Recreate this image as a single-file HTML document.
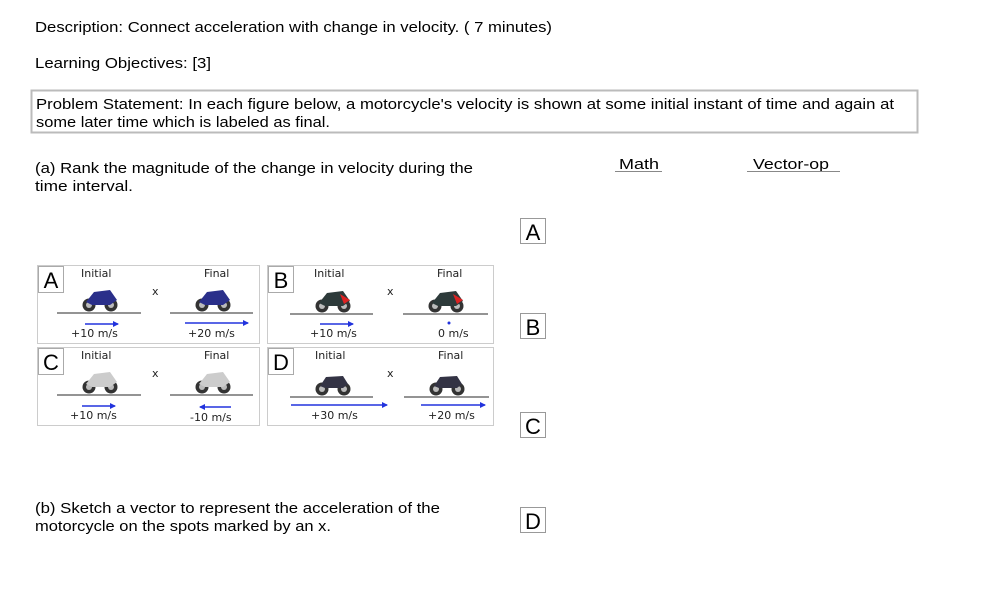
<!DOCTYPE html>
<html><head><meta charset="utf-8"><style>
html,body{margin:0;padding:0;background:#fff;}
svg{display:block;font-family:"Liberation Sans",sans-serif;}
</style></head><body>
<svg width="994" height="600" viewBox="0 0 994 600" xmlns="http://www.w3.org/2000/svg">
<defs>
<marker id="ah" markerWidth="6" markerHeight="6" refX="5" refY="3" orient="auto" markerUnits="userSpaceOnUse"><path d="M0,0 L6,3 L0,6 z" fill="#2233dd"/></marker>
<g id="bike">
<circle cx="-11" cy="0" r="6.5" fill="#333"/><circle cx="-11" cy="0" r="3" fill="#bbb"/>
<circle cx="11" cy="0" r="6.5" fill="#333"/><circle cx="11" cy="0" r="3" fill="#bbb"/>
</g>
</defs>
<g font-size="14.5" fill="#000">
<text x="35" y="32" textLength="517" lengthAdjust="spacingAndGlyphs">Description:  Connect acceleration with change in velocity. ( 7 minutes)</text>
<text x="35" y="68" textLength="176" lengthAdjust="spacingAndGlyphs">Learning Objectives:  [3]</text>
<rect x="31.5" y="90.5" width="886" height="42" fill="none" stroke="#bbb" stroke-width="2"/>
<text x="36" y="109" textLength="858" lengthAdjust="spacingAndGlyphs">Problem Statement:  In each figure below, a motorcycle's velocity is shown at some initial instant of time and again at</text>
<text x="36" y="127" textLength="294" lengthAdjust="spacingAndGlyphs">some later time which is labeled as final.</text>
<text x="35" y="173" textLength="438" lengthAdjust="spacingAndGlyphs">(a)  Rank the magnitude of the change in velocity during the</text>
<text x="35" y="191" textLength="98" lengthAdjust="spacingAndGlyphs">time interval.</text>
<text x="619" y="169" textLength="40" lengthAdjust="spacingAndGlyphs">Math</text>
<line x1="615" y1="171.5" x2="662" y2="171.5" stroke="#888"/>
<text x="753" y="169" textLength="76" lengthAdjust="spacingAndGlyphs">Vector-op</text>
<line x1="747" y1="171.5" x2="840" y2="171.5" stroke="#888"/>
<text x="35" y="513" textLength="405" lengthAdjust="spacingAndGlyphs">(b)  Sketch a vector to represent the acceleration of the</text>
<text x="35" y="531" textLength="296" lengthAdjust="spacingAndGlyphs">motorcycle on the spots marked by an x.</text>
</g>
<g font-size="22" fill="#000" stroke-width="1">
<rect x="520.5" y="218.5" width="25" height="25" fill="#fff" stroke="#999"/><text x="533" y="240" text-anchor="middle">A</text>
<rect x="520.5" y="313.5" width="25" height="25" fill="#fff" stroke="#999"/><text x="533" y="335" text-anchor="middle">B</text>
<rect x="520.5" y="412.5" width="25" height="25" fill="#fff" stroke="#999"/><text x="533" y="434" text-anchor="middle">C</text>
<rect x="520.5" y="507.5" width="25" height="25" fill="#fff" stroke="#999"/><text x="533" y="529" text-anchor="middle">D</text>
</g>
<g font-size="11" fill="#222" font-family="DejaVu Sans, sans-serif">
<rect x="37.5" y="265.5" width="222" height="78" fill="none" stroke="#ccc"/>
<rect x="267.5" y="265.5" width="226" height="78" fill="none" stroke="#ccc"/>
<rect x="37.5" y="347.5" width="222" height="78" fill="none" stroke="#ccc"/>
<rect x="267.5" y="347.5" width="226" height="78" fill="none" stroke="#ccc"/>
<g font-size="22" fill="#000" font-family="Liberation Sans, sans-serif">
<rect x="38.5" y="266.5" width="25" height="26" fill="#fff" stroke="#aaa"/><text x="51" y="288" text-anchor="middle">A</text>
<rect x="268.5" y="266.5" width="25" height="26" fill="#fff" stroke="#aaa"/><text x="281" y="288" text-anchor="middle">B</text>
<rect x="38.5" y="348.5" width="25" height="26" fill="#fff" stroke="#aaa"/><text x="51" y="370" text-anchor="middle">C</text>
<rect x="268.5" y="348.5" width="25" height="26" fill="#fff" stroke="#aaa"/><text x="281" y="370" text-anchor="middle">D</text>
</g>
<text x="81" y="277">Initial</text><text x="204" y="277">Final</text><text x="152" y="295">x</text>
<text x="314" y="277">Initial</text><text x="437" y="277">Final</text><text x="387" y="295">x</text>
<text x="81" y="359">Initial</text><text x="204" y="359">Final</text><text x="152" y="377">x</text>
<text x="315" y="359">Initial</text><text x="438" y="359">Final</text><text x="387" y="377">x</text>
<g stroke="#555" stroke-width="1.2">
<line x1="57" y1="313" x2="141" y2="313"/><line x1="170" y1="313" x2="253" y2="313"/>
<line x1="290" y1="314" x2="373" y2="314"/><line x1="403" y1="314" x2="488" y2="314"/>
<line x1="57" y1="395" x2="141" y2="395"/><line x1="170" y1="395" x2="253" y2="395"/>
<line x1="290" y1="397" x2="373" y2="397"/><line x1="404" y1="397" x2="489" y2="397"/>
</g>
<g>
<use href="#bike" x="100" y="305"/><path d="M86,302 L94,292 L110,290 L117,300 L110,305 L92,305z" fill="#2a2f8a"/>
<use href="#bike" x="213" y="305"/><path d="M199,302 L207,292 L223,290 L230,300 L223,305 L205,305z" fill="#2a2f8a"/>
<use href="#bike" x="333" y="306"/><path d="M319,303 L327,293 L343,291 L350,301 L343,306 L325,306z" fill="#2d3a3a"/><path d="M340,294 L350,300 L344,304z" fill="#d22"/>
<use href="#bike" x="446" y="306"/><path d="M432,303 L440,293 L456,291 L463,301 L456,306 L438,306z" fill="#2d3a3a"/><path d="M453,294 L463,300 L457,304z" fill="#d22"/>
<use href="#bike" x="100" y="387"/><path d="M86,384 L94,374 L110,372 L117,382 L110,387 L92,387z" fill="#ccc"/>
<use href="#bike" x="213" y="387"/><path d="M199,384 L207,374 L223,372 L230,382 L223,387 L205,387z" fill="#ccc"/>
<use href="#bike" x="333" y="389"/><path d="M320,386 L326,377 L343,376 L348,384 L343,388 L325,388z" fill="#334"/>
<use href="#bike" x="447" y="389"/><path d="M434,386 L440,377 L457,376 L462,384 L457,388 L439,388z" fill="#334"/>
</g>
<g stroke="#2233dd" stroke-width="1.5" marker-end="url(#ah)">
<line x1="85" y1="324" x2="118" y2="324"/>
<line x1="185" y1="323" x2="248" y2="323"/>
<line x1="320" y1="324" x2="353" y2="324"/>
<line x1="82" y1="406" x2="115" y2="406"/>
<line x1="231" y1="407" x2="200" y2="407"/>
<line x1="291" y1="405" x2="387" y2="405"/>
<line x1="421" y1="405" x2="485" y2="405"/>
</g>
<circle cx="449" cy="323" r="1.5" fill="#2233dd"/>
<text x="71" y="337">+10 m/s</text><text x="188" y="337">+20 m/s</text>
<text x="310" y="337">+10 m/s</text><text x="438" y="337">0 m/s</text>
<text x="70" y="419">+10 m/s</text><text x="190" y="421">-10 m/s</text>
<text x="311" y="419">+30 m/s</text><text x="428" y="419">+20 m/s</text>
</g>
</svg>
</body></html>
